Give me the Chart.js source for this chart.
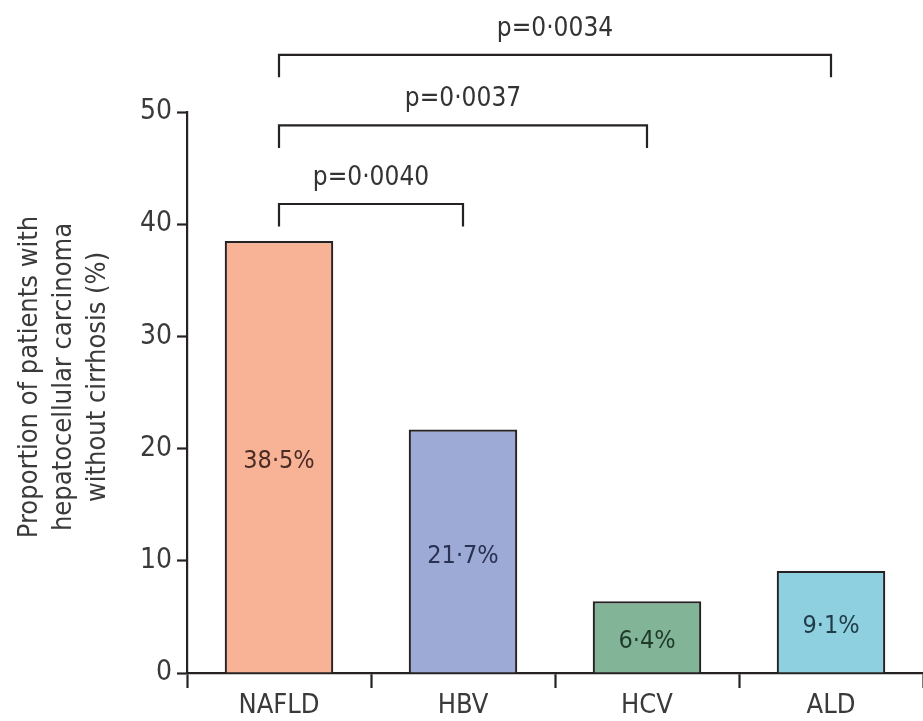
<!DOCTYPE html>
<html>
<head>
<meta charset="utf-8">
<script src="https://cdn.jsdelivr.net/npm/chart.js@4.4.1/dist/chart.umd.min.js"></script>
<style>
  html, body { margin: 0; padding: 0; background: #ffffff; }
  #wrap { width: 923px; height: 721px; position: relative; }
</style>
</head>
<body>
<div id="wrap"><canvas id="chart"></canvas></div>
<script>
// Aetiology groups and share of HCC cases without cirrhosis (%)
const categories = ['NAFLD', 'HBV', 'HCV', 'ALD'];
const proportions = [38.5, 21.7, 6.4, 9.1];
const barColors = ['#F8B296', '#9DAAD6', '#82B597', '#8ECFE0'];
const labelColors = ['#4a2c24', '#2a3152', '#1f3a2b', '#1e3b46'];
const yTicks = [0, 10, 20, 30, 40, 50];

// Pairwise comparisons against NAFLD
const comparisons = [
  { from: 'NAFLD', to: 'HBV', p: 'p=0·0040' },
  { from: 'NAFLD', to: 'HCV', p: 'p=0·0037' },
  { from: 'NAFLD', to: 'ALD', p: 'p=0·0034' }
];

const FONT = "'DejaVu Sans Condensed', 'Liberation Sans', Arial, sans-serif";
const INK = '#262222';

const fmt = v => v.toFixed(1).replace('.', '·') + '%';

// Values written inside each bar
const barLabelPlugin = {
  id: 'barLabels',
  afterDatasetsDraw(chart) {
    const { ctx } = chart;
    const meta = chart.getDatasetMeta(0);
    ctx.save();
    ctx.font = '25px ' + FONT;
    ctx.textAlign = 'center';
    ctx.textBaseline = 'middle';
    meta.data.forEach((bar, i) => {
      const mid = (bar.y + bar.base) / 2;
      ctx.fillStyle = labelColors[i];
      ctx.fillText(fmt(proportions[i]), bar.x, mid + 5);
    });
    ctx.restore();
  }
};

// Significance brackets above the bars
const bracketPlugin = {
  id: 'brackets',
  afterDraw(chart) {
    const { ctx } = chart;
    const xs = chart.scales.x, ys = chart.scales.y;
    const levels = [41.8, 48.8, 55.1];   // bracket heights in axis units
    const leg = 2.0;                      // downward leg length in axis units
    ctx.save();
    ctx.strokeStyle = INK;
    ctx.lineWidth = 2.2;
    ctx.fillStyle = '#333';
    ctx.font = '26px ' + FONT;
    ctx.textAlign = 'center';
    ctx.textBaseline = 'alphabetic';
    comparisons.forEach((c, i) => {
      const x1 = xs.getPixelForValue(categories.indexOf(c.from));
      const x2 = xs.getPixelForValue(categories.indexOf(c.to));
      const y = ys.getPixelForValue(levels[i]);
      const yl = ys.getPixelForValue(levels[i] - leg);
      ctx.beginPath();
      ctx.moveTo(x1, yl);
      ctx.lineTo(x1, y);
      ctx.lineTo(x2, y);
      ctx.lineTo(x2, yl);
      ctx.stroke();
      ctx.fillText(c.p, (x1 + x2) / 2, y - 19);
    });
    ctx.restore();
  }
};

// Three-line rotated y-axis title
const yTitlePlugin = {
  id: 'yTitle',
  afterDraw(chart) {
    const { ctx } = chart;
    const lines = ['Proportion of patients with', 'hepatocellular carcinoma', 'without cirrhosis (%)'];
    ctx.save();
    ctx.font = '27px ' + FONT;
    ctx.fillStyle = '#3a3a3a';
    ctx.textAlign = 'center';
    ctx.textBaseline = 'middle';
    ctx.translate(0, 377);
    ctx.rotate(-Math.PI / 2);
    lines.forEach((t, i) => ctx.fillText(t, 0, 30 + i * 34));
    ctx.restore();
  }
};

new Chart(document.getElementById('chart'), {
  type: 'bar',
  data: {
    labels: categories,
    datasets: [{
      data: proportions,
      backgroundColor: barColors,
      borderColor: INK,
      borderWidth: 2.2,
      borderSkipped: 'bottom',
      categoryPercentage: 1.0,
      barPercentage: 0.59
    }]
  },
  options: {
    responsive: true,
    maintainAspectRatio: false,
    animation: false,
    layout: { padding: { top: 112, left: 0, right: 0, bottom: 0 } },
    plugins: { legend: { display: false }, tooltip: { enabled: false } },
    scales: {
      x: {
        type: 'category',
        offset: true,
        grid: {
          offset: true,
          drawOnChartArea: false,
          drawTicks: true,
          tickLength: 15,
          tickWidth: 2.2,
          tickColor: INK
        },
        border: { display: true, color: INK, width: 2.2 },
        ticks: {
          color: '#3a3a3a',
          font: { family: FONT, size: 27 },
          padding: 2,
          maxRotation: 0
        },
        afterFit(scale) { scale.height = 48; }
      },
      y: {
        min: 0,
        max: 50,
        afterBuildTicks(scale) { scale.ticks = yTicks.map(v => ({ value: v })); },
        grid: {
          drawOnChartArea: false,
          drawTicks: true,
          tickLength: 10,
          tickWidth: 2.2,
          tickColor: INK
        },
        border: { display: true, color: INK, width: 2.2 },
        ticks: {
          color: '#3a3a3a',
          font: { family: FONT, size: 28 },
          padding: 5
        },
        afterFit(scale) { scale.width = 187; }
      }
    }
  },
  plugins: [barLabelPlugin, bracketPlugin, yTitlePlugin]
});
</script>
</body>
</html>
